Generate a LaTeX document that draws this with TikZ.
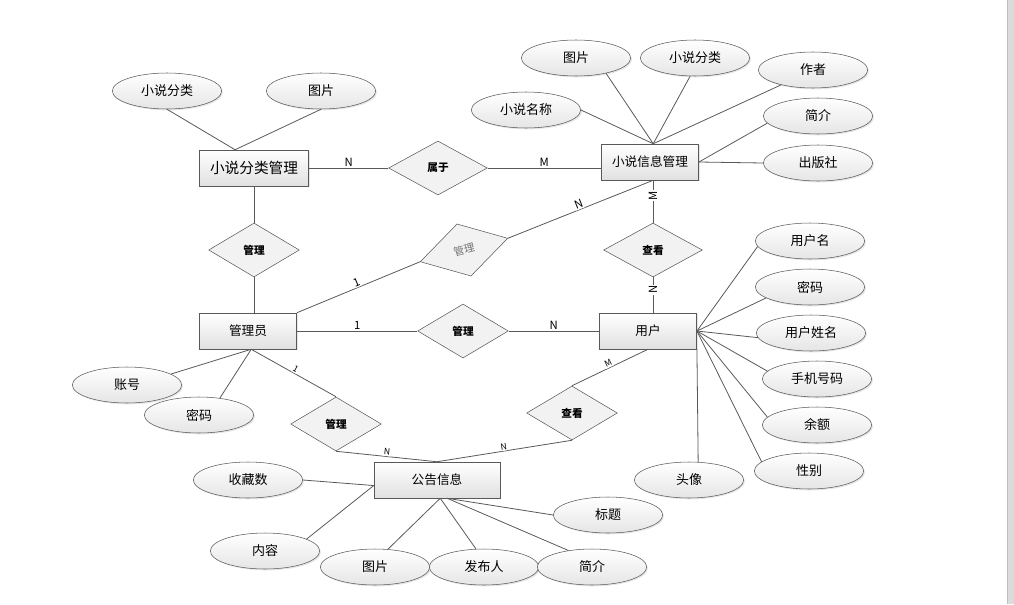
\documentclass[tikz,border=0pt]{standalone}
\usepackage{fontspec}
\setmainfont{Noto Sans CJK SC}
\usepackage{xcolor}
\usepackage{tikz}
\usetikzlibrary{shapes,arrows,positioning,shadows}

\begin{document}
\begin{tikzpicture}[x=0.75pt, y=-0.75pt, auto, font=\fontsize{9.5}{11}\selectfont]
    % Define styles
    \tikzstyle{entity} = [rectangle, draw=black!65, top color=white, bottom color=black!12, minimum width=73pt, minimum height=27pt, inner sep=1pt, drop shadow={shadow xshift=1pt, shadow yshift=-1pt, opacity=0.2}]
    \tikzstyle{attribute} = [ellipse, draw=black!65, top color=white, bottom color=black!10, minimum width=82pt, minimum height=27pt, inner sep=1pt, font=\fontsize{9.75}{11}\selectfont, drop shadow={shadow xshift=1pt, shadow yshift=-1pt, opacity=0.2}]
    \tikzstyle{relation} = [diamond, draw=black!65, fill=black!5, minimum width=68pt, minimum height=40.5pt, inner sep=0pt, font=\fontsize{8}{9}\selectfont\bfseries]
    \tikzstyle{line} = [draw=black!65, line width=0.6pt]
    \tikzstyle{card} = [fill=white, inner sep=0.6pt, font=\fontsize{8.5}{9}\selectfont]
    \tikzstyle{smallcard} = [card, font=\fontsize{6.5}{7}\selectfont]

    \useasboundingbox (0,0) rectangle (1014,604);
    \fill [black!14] (1007,0) rectangle (1014,604);
    \draw [black!25] (1007,0) -- (1007,604);

    % Entities
    \node [entity, minimum width=82pt, font=\fontsize{11}{13}\selectfont] (cat_mgr) at (254,168) {小说分类管理};
    \node [entity] (novel_mgr) at (650,162) {小说信息管理};
    \node [entity] (admin) at (248,331) {管理员};
    \node [entity] (user) at (648,331) {用户};
    \node [entity, minimum width=94.5pt] (notice) at (437,480) {公告信息};

    % Relations
    \node [relation, minimum width=74pt] (belong) at (438,168) {属于};
    \node [relation] (manage_cat) at (254,250) {管理};
    \node [relation] (manage_user) at (463,331) {管理};
    \node [relation, rotate=15, text=black!55, font=\fontsize{8}{9}\selectfont] (manage_novel) at (464,250) {管理};
    \node [relation, minimum width=74pt] (view_novel) at (653,250) {查看};
    \node [relation] (view_notice) at (572,413) {查看};
    \node [relation] (manage_notice) at (336,424) {管理};

    % Attributes of novel category
    \node [attribute] (cat_name) at (167,91) {小说分类};
    \node [attribute] (cat_pic) at (321,91) {图片};
    % Attributes of novel
    \node [attribute] (novel_pic) at (576,58) {图片};
    \node [attribute] (novel_cat) at (695,58) {小说分类};
    \node [attribute] (novel_author) at (813,70) {作者};
    \node [attribute] (novel_name) at (526,110) {小说名称};
    \node [attribute] (novel_intro) at (818,116) {简介};
    \node [attribute] (novel_press) at (818,163) {出版社};
    % Attributes of admin
    \node [attribute] (admin_acc) at (127,385) {账号};
    \node [attribute] (admin_pwd) at (199,415) {密码};
    % Attributes of user
    \node [attribute] (user_name) at (810,241) {用户名};
    \node [attribute] (user_pwd) at (810,287) {密码};
    \node [attribute] (user_real) at (811,333) {用户姓名};
    \node [attribute] (user_phone) at (817,379) {手机号码};
    \node [attribute] (user_bal) at (817,425) {余额};
    \node [attribute] (user_sex) at (809,471) {性别};
    \node [attribute] (user_avatar) at (689,480) {头像};
    % Attributes of notice
    \node [attribute] (notice_fav) at (248,480) {收藏数};
    \node [attribute] (notice_content) at (265,551) {内容};
    \node [attribute] (notice_pic) at (375,567) {图片};
    \node [attribute] (notice_pub) at (484,567) {发布人};
    \node [attribute] (notice_intro) at (592,567) {简介};
    \node [attribute] (notice_title) at (608,515) {标题};

    % Relation lines with cardinalities
    \draw [line] (cat_mgr.east) -- node [card, pos=0.5] {N} (belong.west);
    \draw [line] (belong.east) -- node [card, pos=0.5] {M} (belong.east -| novel_mgr.west);
    \draw [line] (cat_mgr.south) -- (manage_cat.north);
    \draw [line] (manage_cat.south) -- (manage_cat.south |- admin.north);
    \draw [line] (admin.east) -- node [card, pos=0.5] {1} (manage_user.west);
    \draw [line] (manage_user.east) -- node [card, pos=0.5] {N} (user.west);
    \draw [line] (admin.north east) -- node [card, sloped, pos=0.5] {1} (manage_novel.west);
    \draw [line] (manage_novel.east) -- node [card, sloped, pos=0.5] {N} (novel_mgr.-80);
    \draw [line] (view_novel.north |- novel_mgr.south) -- node [card, rotate=90, pos=0.5] {M} (view_novel.north);
    \draw [line] (view_novel.south) -- node [card, rotate=90, pos=0.5] {N} (view_novel.south |- user.north);
    \draw [line] (user.south) -- node [smallcard, sloped, pos=0.5] {M} (view_notice.north);
    \draw [line] (view_notice.south) -- node [smallcard, sloped, pos=0.5] {N} (notice.north);
    \draw [line] (admin.-80) -- node [smallcard, sloped, pos=0.5] {1} (manage_notice.north);
    \draw [line] (manage_notice.south) -- node [smallcard, sloped, pos=0.5] {N} (notice.north);

    % Attribute lines
    \draw [line] (cat_name.south) -- (cat_mgr.136);
    \draw [line] (cat_pic.south) -- (cat_mgr.136);
    \draw [line] (novel_name.east) -- (novel_mgr.80);
    \draw [line] (novel_pic.-27) -- (novel_mgr.80);
    \draw [line] (novel_cat.-105) -- (novel_mgr.80);
    \draw [line] (novel_author.205) -- (novel_mgr.80);
    \draw [line] (novel_intro.188) -- (novel_mgr.east);
    \draw [line] (novel_press.west) -- (novel_mgr.east);
    \draw [line] (admin_acc.14) -- (admin.-80);
    \draw [line] (admin_pwd.39) -- (admin.-80);
    \draw [line] (user_name.186) -- (user.east);
    \draw [line] (user_pwd.194) -- (user.east);
    \draw [line] (user_real.185) -- (user.east);
    \draw [line] (user_phone.171) -- (user.east);
    \draw [line] (user_bal.171) -- (user.east);
    \draw [line] (user_sex.169) -- (user.east);
    \draw [line] (user_avatar.63) -- (user.south east);
    \draw [line] (notice_fav.east) -- (notice.185);
    \draw [line] (notice_content.16) -- (notice.185);
    \draw [line] (notice_pic.54) -- (notice.-80);
    \draw [line] (notice_pub.114) -- (notice.-80);
    \draw [line] (notice_title.west) -- (notice.-61);
    \draw [line] (notice_intro.145) -- (notice.-61);
\end{tikzpicture}
\end{document}
